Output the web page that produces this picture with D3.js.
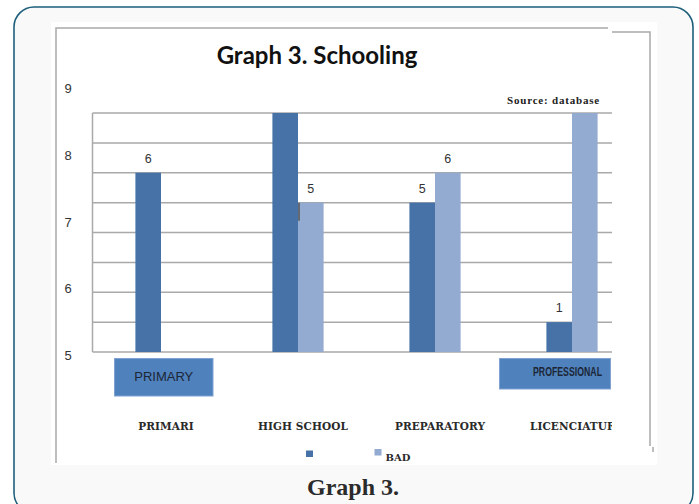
<!DOCTYPE html>
<html>
<head>
<meta charset="utf-8">
<script src="https://cdn.jsdelivr.net/npm/d3@7"></script>
<style>
  html, body { margin: 0; padding: 0; background: #ffffff; }
  svg { display: block; }
</style>
</head>
<body>
<svg id="chart" width="699" height="504"></svg>
<script>
// Schooling levels and counts per series
const categories = ["PRIMARI", "HIGH SCHOOL", "PREPARATORY", "LICENCIATURA"];
const seriesNames = ["", "BAD"];
const darkValues = [6, 8, 5, 1];
const lightValues = [0, 5, 6, 8];
// value labels printed above bars (null = no label)
const darkLabels = ["6", null, "5", "1"];
const lightLabels = [null, "5", "6", null];
// left-hand scale labels
const yTickLabels = [5, 6, 7, 8, 9];
// callout boxes under the axis
const callouts = [
  { text: "PRIMARY", category: "PRIMARI" },
  { text: "PROFESSIONAL", category: "LICENCIATURA" }
];

const colors = { dark: "#4672a8", light: "#93aad1", grid: "#a9a9a9", box: "#4f81bd" };

const svg = d3.select("#chart");

// page frame
svg.append("rect").attr("x", 0).attr("y", 0).attr("width", 699).attr("height", 504).attr("fill", "#ffffff");
svg.append("rect")
  .attr("x", 14).attr("y", 7).attr("width", 679).attr("height", 506)
  .attr("rx", 20).attr("ry", 20)
  .attr("fill", "#f9f9f9").attr("stroke", "#1d5f7b").attr("stroke-width", 1.6);

// white chart sheet
svg.append("rect").attr("x", 51).attr("y", 22).attr("width", 606).attr("height", 443).attr("fill", "#ffffff");

// chart outer border pieces
const border = svg.append("g").attr("stroke", colors.grid).attr("stroke-width", 1.5).attr("fill", "none");
border.append("path").attr("d", "M56,463 V28 H608");
border.append("path").attr("d", "M612,32 H650 V446");
border.append("path").attr("d", "M653,447 V452");

// scales
const plot = { left: 92.5, right: 612, top: 113, bottom: 352 };
const x = d3.scaleBand().domain(categories).range([plot.left, plot.left + 137 * categories.length]).padding(0);
const halfGroup = 25.6;
const xs = d3.scaleBand().domain([0, 1]).range([x.bandwidth() / 2 - halfGroup, x.bandwidth() / 2 + halfGroup]).padding(0);
const y = d3.scaleLinear().domain([0, 8]).range([plot.bottom, plot.top]);
const yLab = d3.scaleLinear().domain([5, 9]).range([355, 88]);

// clip for the plot region (right side is cut off)
svg.append("defs").append("clipPath").attr("id", "plotClip")
  .append("rect").attr("x", 0).attr("y", 0).attr("width", plot.right).attr("height", 504);

const g = svg.append("g").attr("clip-path", "url(#plotClip)");

// gridlines
g.append("g")
  .selectAll("line")
  .data(d3.range(0, 9))
  .join("line")
  .attr("x1", plot.left).attr("x2", plot.right + 5)
  .attr("y1", d => y(d)).attr("y2", d => y(d))
  .attr("stroke", colors.grid).attr("stroke-width", 1.5);
g.append("line")
  .attr("x1", plot.left).attr("x2", plot.left)
  .attr("y1", y(8)).attr("y2", y(0))
  .attr("stroke", colors.grid).attr("stroke-width", 1.5);

// bars
const rows = categories.map((c, i) => ({ c, vals: [darkValues[i], lightValues[i]], labs: [darkLabels[i], lightLabels[i]] }));
const grp = g.selectAll("g.cat").data(rows).join("g").attr("class", "cat")
  .attr("transform", d => `translate(${x(d.c)},0)`);

grp.selectAll("rect")
  .data(d => d.vals.map((v, k) => ({ v, k })))
  .join("rect")
  .attr("x", d => xs(d.k))
  .attr("width", xs.bandwidth())
  .attr("y", d => y(d.v))
  .attr("height", d => y(0) - y(d.v))
  .attr("fill", d => d.k === 0 ? colors.dark : colors.light);

grp.selectAll("text.val")
  .data(d => d.labs.map((t, k) => ({ t, k, v: d.vals[k] })).filter(d => d.t !== null))
  .join("text")
  .attr("class", "val")
  .attr("x", d => xs(d.k) + xs.bandwidth() / 2)
  .attr("y", d => y(d.v) - 10)
  .attr("text-anchor", "middle")
  .attr("font-family", "Liberation Sans, Arial, sans-serif")
  .attr("font-size", 12.5)
  .attr("fill", "#333")
  .text(d => d.t);

// small dark marker at the high-school pair
g.append("line")
  .attr("x1", x("HIGH SCHOOL") + xs(1) + 1).attr("x2", x("HIGH SCHOOL") + xs(1) + 1)
  .attr("y1", y(lightValues[1])).attr("y2", y(lightValues[1]) + 18)
  .attr("stroke", "#555").attr("stroke-width", 1.5);

// callout boxes
const boxDims = {
  PRIMARY: { dx: -46.5, w: 98.5, h: 37.5, size: 13, anchor: "middle" },
  PROFESSIONAL: { dx: -72.5, w: 111, h: 30.5, size: 12, anchor: "end" }
};
callouts.forEach(cb => {
  const b = boxDims[cb.text];
  const cx = x(cb.category) + x.bandwidth() / 2 + b.dx;
  g.append("rect")
    .attr("x", cx).attr("y", 358.5).attr("width", b.w).attr("height", b.h)
    .attr("fill", colors.box).attr("stroke", "#7fa2d3").attr("stroke-width", 1);
  const t = g.append("text")
    .attr("font-family", "Liberation Sans, Arial, sans-serif")
    .attr("font-size", b.size)
    .attr("fill", "#1c2636")
    .text(cb.text);
  if (b.anchor === "middle") {
    t.attr("x", cx + b.w / 2).attr("y", 381).attr("text-anchor", "middle");
  } else {
    t.attr("x", 533).attr("y", 375.5).attr("textLength", 69).attr("lengthAdjust", "spacingAndGlyphs")
      .attr("font-weight", "bold");
  }
});

// category labels
g.append("g").selectAll("text")
  .data(categories)
  .join("text")
  .attr("x", d => x(d) + x.bandwidth() / 2 + 5)
  .attr("y", 430)
  .attr("text-anchor", "middle")
  .attr("font-family", "DejaVu Serif, serif")
  .attr("font-weight", "bold")
  .attr("font-size", 10.5)
  .attr("letter-spacing", 0.1)
  .attr("fill", "#2a2a2a")
  .text(d => d);

// left scale labels
svg.append("g").selectAll("text")
  .data(yTickLabels)
  .join("text")
  .attr("x", 68).attr("y", d => yLab(d) + 5)
  .attr("text-anchor", "middle")
  .attr("font-family", "Liberation Sans, Arial, sans-serif")
  .attr("font-size", 13)
  .attr("fill", "#333")
  .text(d => d);

// title
svg.append("text")
  .attr("x", 317).attr("y", 64)
  .attr("text-anchor", "middle")
  .attr("font-family", "Lato, sans-serif")
  .attr("font-weight", "bold")
  .attr("font-size", 24)
  .attr("fill", "#111")
  .text("Graph 3. Schooling");

// source note
svg.append("text")
  .attr("x", 600).attr("y", 104)
  .attr("text-anchor", "end")
  .attr("font-family", "Liberation Serif, serif")
  .attr("font-weight", "bold")
  .attr("font-size", 11)
  .attr("letter-spacing", 0.8)
  .attr("fill", "#222")
  .text("Source: database");

// legend
const legend = [
  { name: seriesNames[0], color: colors.dark, x: 306, y: 450.5 },
  { name: seriesNames[1], color: colors.light, x: 374.5, y: 449 }
];
const lg = svg.append("g").selectAll("g").data(legend).join("g");
lg.append("rect").attr("x", d => d.x).attr("y", d => d.y).attr("width", 7).attr("height", 6.5).attr("fill", d => d.color);
lg.append("text")
  .attr("x", d => d.x + 11).attr("y", 461)
  .attr("font-family", "DejaVu Serif, serif")
  .attr("font-weight", "bold")
  .attr("font-size", 10)
  .attr("fill", "#2a2a2a")
  .text(d => d.name);

// caption
svg.append("text")
  .attr("x", 353).attr("y", 495)
  .attr("text-anchor", "middle")
  .attr("font-family", "Liberation Serif, serif")
  .attr("font-weight", "bold")
  .attr("font-size", 24)
  .attr("fill", "#2b2b2b")
  .text("Graph 3.");
</script>
</body>
</html>
